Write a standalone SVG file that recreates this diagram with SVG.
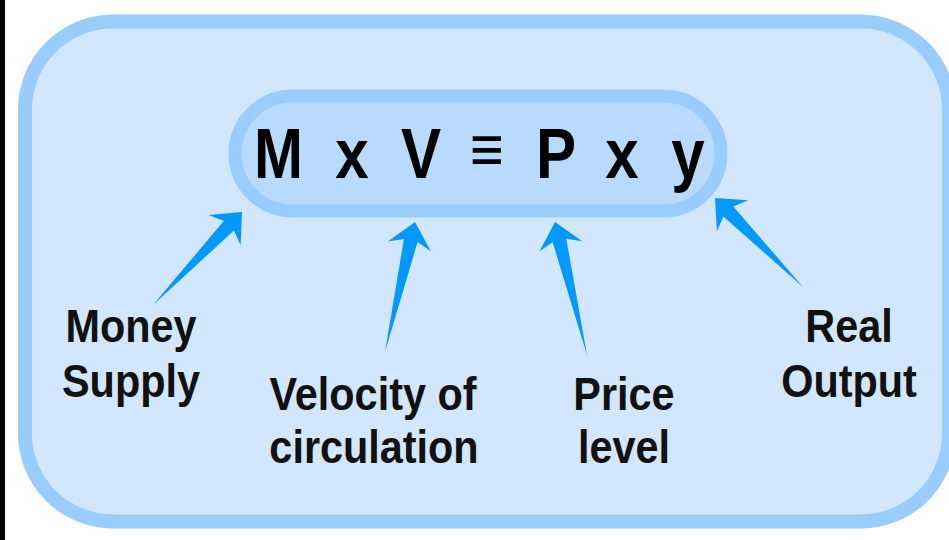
<svg xmlns="http://www.w3.org/2000/svg" width="949" height="540" viewBox="0 0 949 540">
<style>
.frame{fill:#D2E7FD;stroke:#99CCFF;stroke-width:14}
.pill{fill:#B8DBFD;stroke:#99CCFF;stroke-width:13}
.eq{font-family:"Liberation Sans",Arial,sans-serif;font-weight:bold;font-size:70px;fill:#000;text-anchor:middle}
.eqsym{font-family:"Liberation Sans",Arial,sans-serif;font-weight:normal;font-size:66px;fill:#000;text-anchor:middle}
.lbl{font-family:"Liberation Sans",Arial,sans-serif;font-weight:bold;font-size:46px;fill:#111;text-anchor:middle}
.arrow{fill:#0099FF}
</style>
<rect x="0" y="0" width="949" height="540" fill="#fff"/>
<rect x="0" y="0" width="5" height="540" fill="#000"/>
<g id="frame">
<rect class="frame" x="25" y="21.5" width="924" height="500" rx="88"/>
</g>
<g id="equation">
<rect class="pill" x="235" y="96" width="486" height="115" rx="57.5"/>
<text class="eq" transform="translate(278.5 178) scale(0.84 1)">M</text>
<text class="eq" transform="translate(352 178) scale(0.86 1)">x</text>
<text class="eq" transform="translate(421 178) scale(0.86 1)">V</text>
<text class="eqsym" transform="translate(487 171.5) scale(0.88 1)">≡</text>
<text class="eq" transform="translate(556 178) scale(0.86 1)">P</text>
<text class="eq" transform="translate(622 178) scale(0.86 1)">x</text>
<text class="eq" transform="translate(688 178) scale(0.86 1)">y</text>
</g>
<g id="connectors">
<polygon class="arrow" points="153,305 223.8,220.9 208.8,214.9 242,212 240.6,245.3 233.9,230.6"/>
<polygon class="arrow" points="385,352 403.9,238.9 387.9,241.4 415,222 430.8,251.3 417.6,242.1"/>
<polygon class="arrow" points="587,355 552.6,242.1 539.5,251.5 555,222 582.2,241.2 566.3,238.8"/>
<polygon class="arrow" points="803,287 723.4,216.4 716.9,231.2 715,198 748.2,200.3 733.3,206.6"/>
</g>
<g id="money-supply">
<text class="lbl" transform="translate(131 342) scale(0.9 1)">Money</text>
<text class="lbl" transform="translate(131 397) scale(0.9 1)">Supply</text>
</g>
<g id="velocity">
<text class="lbl" transform="translate(373 410) scale(0.9 1)">Velocity of</text>
<text class="lbl" transform="translate(374 463) scale(0.9 1)">circulation</text>
</g>
<g id="price-level">
<text class="lbl" transform="translate(624 410) scale(0.9 1)">Price</text>
<text class="lbl" transform="translate(624 463) scale(0.9 1)">level</text>
</g>
<g id="real-output">
<text class="lbl" transform="translate(849 342) scale(0.9 1)">Real</text>
<text class="lbl" transform="translate(849 397) scale(0.9 1)">Output</text>
</g>
</svg>
